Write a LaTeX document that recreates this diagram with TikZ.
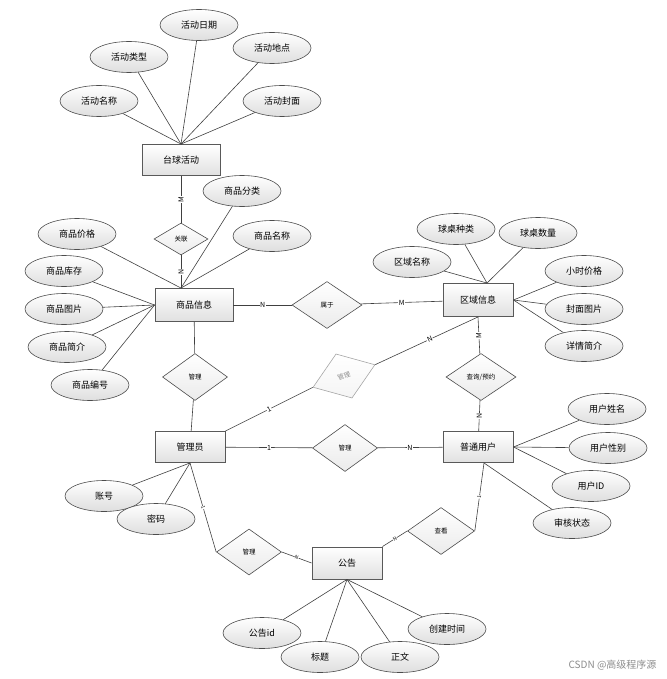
\documentclass[tikz,border=0pt]{standalone}
\usepackage{fontspec}
\setmainfont{Noto Sans CJK SC}
\usepackage{tikz}
\usetikzlibrary{shapes.geometric}

\begin{document}
\begin{tikzpicture}[
    x=1pt, y=-1pt,
    entity/.style={draw=black!65, line width=0.9pt, rectangle,
      minimum width=70pt, minimum height=31pt,
      top color=white, bottom color=black!12,
      font=\fontsize{9}{10}\selectfont},
    attr/.style={draw=black!70, line width=0.6pt, ellipse,
      minimum width=78pt, minimum height=31pt,
      top color=white, bottom color=black!13,
      font=\fontsize{9}{10}\selectfont},
    rel/.style={draw=black!70, line width=0.6pt, diamond, inner sep=0pt,
      minimum width=66pt, minimum height=47pt,
      top color=white, bottom color=black!8,
      font=\fontsize{6.5}{7}\selectfont},
    link/.style={draw=black!75, line width=0.6pt},
    card/.style={fill=white, inner sep=0.5pt, font=\fontsize{7}{8}\selectfont},
    tick/.style={fill=white, inner sep=0.3pt, font=\fontsize{5}{5}\selectfont, sloped}
  ]
  \useasboundingbox (0,0) rectangle (666,679);

  % entities
  \node[entity, minimum width=78pt] (tqhd) at (181,160) {台球活动};
  \node[entity, minimum width=78pt, minimum height=33pt] (spxx) at (194,305) {商品信息};
  \node[entity, minimum height=33pt] (qyxx) at (478,300) {区域信息};
  \node[entity] (gly) at (190,447) {管理员};
  \node[entity] (ptyh) at (478,447) {普通用户};
  \node[entity, minimum height=32pt] (gg) at (347,563) {公告};

  % relations
  \node[rel, minimum width=54pt, minimum height=32pt] (guanlian) at (181,239) {关联};
  \node[rel, minimum width=70pt] (shuyu) at (327,305) {属于};
  \node[rel, minimum width=65pt] (gl1) at (195,377) {管理};
  \node[rel, draw=black!35, text=black!45, rotate=20, bottom color=black!4] (gl4) at (344,376) {管理};
  \node[rel, minimum width=70pt] (cxyy) at (481,377) {查询/预约};
  \node[rel, minimum width=65pt] (gl2) at (345,448) {管理};
  \node[rel, minimum width=65pt, minimum height=46pt] (gl3) at (249,552) {管理};
  \node[rel, minimum width=67pt] (chakan) at (441,531) {查看};

  % attributes of 台球活动
  \node[attr] (hdrq) at (199,25) {活动日期};
  \node[attr] (hdlx) at (129,57) {活动类型};
  \node[attr] (hddd) at (272,48) {活动地点};
  \node[attr] (hdmc) at (99,101) {活动名称};
  \node[attr] (hdfm) at (282,101) {活动封面};

  % attributes of 商品信息
  \node[attr] (spfl) at (242,191) {商品分类};
  \node[attr] (spmc) at (272,236) {商品名称};
  \node[attr] (spjg) at (77,234) {商品价格};
  \node[attr] (spkc) at (64,271) {商品库存};
  \node[attr] (sptp) at (64,309) {商品图片};
  \node[attr] (spjj) at (67,347) {商品简介};
  \node[attr] (spbh) at (90,385) {商品编号};

  % attributes of 区域信息
  \node[attr] (qzzl) at (456,229) {球桌种类};
  \node[attr] (qzsl) at (538,233) {球桌数量};
  \node[attr] (qymc) at (412,262) {区域名称};
  \node[attr] (xsjg) at (584,271) {小时价格};
  \node[attr] (fmtp) at (584,309) {封面图片};
  \node[attr] (xqjj) at (584,346) {详情简介};

  % attributes of 普通用户
  \node[attr] (yhxm) at (607,409) {用户姓名};
  \node[attr] (yhxb) at (608,448) {用户性别};
  \node[attr] (yhid) at (591,486) {用户ID};
  \node[attr] (shzt) at (572,523) {审核状态};

  % attributes of 管理员
  \node[attr] (zh) at (104,496) {账号};
  \node[attr] (mm) at (156,519) {密码};

  % attributes of 公告
  \node[attr] (ggid) at (262,633) {公告id};
  \node[attr] (bt) at (320,657) {标题};
  \node[attr] (zw) at (400,657) {正文};
  \node[attr] (cjsj) at (447,629) {创建时间};

  \coordinate (sptop) at ([xshift=-13pt]spxx.north);
  \coordinate (qytop) at ([xshift=9pt]qyxx.north);
  \coordinate (ptbot) at ([xshift=6pt]ptyh.south);

  % attribute links
  \foreach \a in {hdrq,hdlx,hddd,hdmc,hdfm}
    \draw[link] (\a) -- (tqhd.north);
  \foreach \a in {spfl,spmc,spjg}
    \draw[link] (\a) -- (sptop);
  \foreach \a in {spkc,sptp,spjj,spbh}
    \draw[link] (\a) -- (spxx.west);
  \foreach \a in {qzzl,qzsl,qymc}
    \draw[link] (\a) -- (qytop);
  \foreach \a in {xsjg,fmtp,xqjj}
    \draw[link] (\a) -- (qyxx.east);
  \foreach \a in {yhxm,yhxb,yhid}
    \draw[link] (\a) -- (ptyh.east);
  \draw[link] (shzt) -- (ptbot);
  \foreach \a in {zh,mm}
    \draw[link] (\a) -- (gly.south);
  \foreach \a in {ggid,bt,zw,cjsj}
    \draw[link] (\a) -- (gg.south);

  % relation links
  \draw[link] (tqhd) -- node[card, rotate=90] {M} (guanlian);
  \draw[link] (guanlian) -- node[card, rotate=90] {N} (sptop);
  \draw[link] (spxx) -- node[card] {N} (shuyu);
  \draw[link] (shuyu) -- node[card] {M} (qyxx);
  \draw[link] (qyxx.south) -- node[card, pos=0.47, sloped] {N} (gl4.east);
  \draw[link] (gl4.west) -- node[card, sloped] {1} (gly.north east);
  \draw[link] (qyxx.south) -- node[card, rotate=90] {M} (cxyy);
  \draw[link] (cxyy) -- node[card, rotate=90] {N} (ptyh);
  \draw[link] (spxx) -- (gl1);
  \draw[link] (gl1) -- (gly);
  \draw[link] (gly) -- node[card] {1} (gl2);
  \draw[link] (gl2) -- node[card] {N} (ptyh);
  \draw[link] (gly.south) -- node[tick] {1} (gl3.west);
  \draw[link] (gl3.east) -- node[tick] {N} (gg.west);
  \draw[link] (ptbot) -- node[tick] {1} (chakan.east);
  \draw[link] (chakan.west) -- node[tick] {N} (gg.north east);

  \node[anchor=east, text=black!45, font=\fontsize{10}{11}\selectfont] (wm) at (660,665) {CSDN @高级程序源};
\end{tikzpicture}
\end{document}
